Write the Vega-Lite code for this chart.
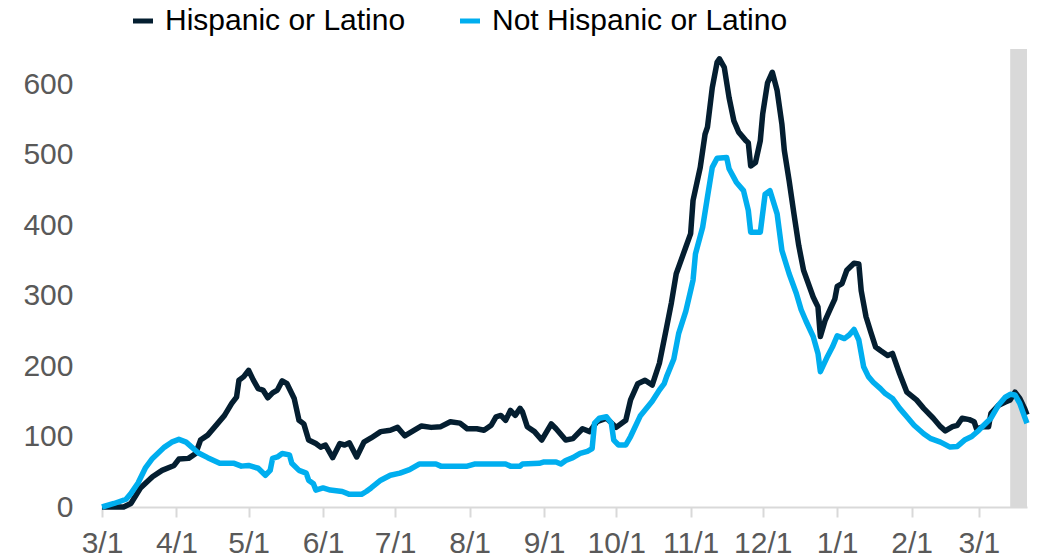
{
  "$schema": "https://vega.github.io/schema/vega-lite/v6.json",
  "width": 925,
  "height": 458,
  "autosize": {"type": "none"},
  "padding": {"left": 102, "top": 49, "right": 11, "bottom": 53},
  "background": "white",
  "config": {"view": {"stroke": null}, "font": "Liberation Sans"},
  "datasets": {
    "hisp": [
      {"d":"2020-03-01","v":0},{"d":"2020-03-10","v":0},{"d":"2020-03-13","v":5},{"d":"2020-03-17","v":27},
      {"d":"2020-03-22","v":43},{"d":"2020-03-26","v":52},{"d":"2020-03-31","v":59},{"d":"2020-04-02","v":68},
      {"d":"2020-04-06","v":69},{"d":"2020-04-09","v":76},{"d":"2020-04-11","v":95},{"d":"2020-04-14","v":102},
      {"d":"2020-04-18","v":118},{"d":"2020-04-21","v":130},{"d":"2020-04-24","v":147},{"d":"2020-04-26","v":156},
      {"d":"2020-04-27","v":180},{"d":"2020-04-29","v":185},{"d":"2020-05-01","v":194},{"d":"2020-05-03","v":180},
      {"d":"2020-05-05","v":168},{"d":"2020-05-07","v":166},{"d":"2020-05-09","v":155},{"d":"2020-05-11","v":162},
      {"d":"2020-05-13","v":166},{"d":"2020-05-15","v":179},{"d":"2020-05-17","v":175},{"d":"2020-05-20","v":154},
      {"d":"2020-05-22","v":123},{"d":"2020-05-24","v":118},{"d":"2020-05-26","v":95},{"d":"2020-05-29","v":90},
      {"d":"2020-05-31","v":85},{"d":"2020-06-02","v":88},{"d":"2020-06-05","v":70},{"d":"2020-06-08","v":90},
      {"d":"2020-06-10","v":88},{"d":"2020-06-12","v":91},{"d":"2020-06-15","v":71},{"d":"2020-06-18","v":92},
      {"d":"2020-06-21","v":98},{"d":"2020-06-25","v":107},{"d":"2020-06-29","v":109},{"d":"2020-07-02","v":113},
      {"d":"2020-07-05","v":101},{"d":"2020-07-09","v":109},{"d":"2020-07-12","v":115},{"d":"2020-07-16","v":113},
      {"d":"2020-07-20","v":114},{"d":"2020-07-24","v":121},{"d":"2020-07-28","v":119},{"d":"2020-07-31","v":111},
      {"d":"2020-08-04","v":111},{"d":"2020-08-07","v":109},{"d":"2020-08-10","v":116},{"d":"2020-08-12","v":128},
      {"d":"2020-08-14","v":130},{"d":"2020-08-16","v":123},{"d":"2020-08-18","v":137},{"d":"2020-08-20","v":130},
      {"d":"2020-08-22","v":140},{"d":"2020-08-23","v":135},{"d":"2020-08-25","v":114},{"d":"2020-08-28","v":107},
      {"d":"2020-08-31","v":95},{"d":"2020-09-04","v":118},{"d":"2020-09-06","v":111},{"d":"2020-09-10","v":95},
      {"d":"2020-09-13","v":97},{"d":"2020-09-17","v":111},{"d":"2020-09-20","v":107},{"d":"2020-09-23","v":121},
      {"d":"2020-09-27","v":126},{"d":"2020-10-01","v":113},{"d":"2020-10-05","v":123},{"d":"2020-10-07","v":152},
      {"d":"2020-10-10","v":175},{"d":"2020-10-13","v":180},{"d":"2020-10-16","v":173},{"d":"2020-10-19","v":204},
      {"d":"2020-10-22","v":255},{"d":"2020-10-24","v":290},{"d":"2020-10-26","v":331},{"d":"2020-10-30","v":369},
      {"d":"2020-11-01","v":388},{"d":"2020-11-02","v":435},{"d":"2020-11-05","v":482},{"d":"2020-11-07","v":529},
      {"d":"2020-11-08","v":539},{"d":"2020-11-10","v":595},{"d":"2020-11-12","v":631},{"d":"2020-11-13","v":636},
      {"d":"2020-11-15","v":624},{"d":"2020-11-17","v":581},{"d":"2020-11-19","v":548},{"d":"2020-11-21","v":532},
      {"d":"2020-11-24","v":520},{"d":"2020-11-25","v":517},{"d":"2020-11-26","v":484},{"d":"2020-11-28","v":489},
      {"d":"2020-11-30","v":520},{"d":"2020-12-01","v":558},{"d":"2020-12-03","v":602},{"d":"2020-12-05","v":617},
      {"d":"2020-12-07","v":591},{"d":"2020-12-09","v":543},{"d":"2020-12-10","v":506},{"d":"2020-12-12","v":463},
      {"d":"2020-12-14","v":416},{"d":"2020-12-16","v":371},{"d":"2020-12-18","v":336},{"d":"2020-12-22","v":298},
      {"d":"2020-12-23","v":291},{"d":"2020-12-24","v":284},{"d":"2020-12-25","v":242},{"d":"2020-12-27","v":265},
      {"d":"2020-12-29","v":280},{"d":"2020-12-31","v":295},{"d":"2021-01-01","v":313},{"d":"2021-01-03","v":317},
      {"d":"2021-01-05","v":336},{"d":"2021-01-08","v":346},{"d":"2021-01-10","v":345},{"d":"2021-01-11","v":307},
      {"d":"2021-01-13","v":270},{"d":"2021-01-15","v":248},{"d":"2021-01-17","v":227},{"d":"2021-01-19","v":222},
      {"d":"2021-01-22","v":215},{"d":"2021-01-24","v":218},{"d":"2021-01-27","v":189},{"d":"2021-01-30","v":163},
      {"d":"2021-02-03","v":152},{"d":"2021-02-06","v":140},{"d":"2021-02-10","v":126},{"d":"2021-02-13","v":114},
      {"d":"2021-02-15","v":108},{"d":"2021-02-18","v":114},{"d":"2021-02-20","v":116},{"d":"2021-02-22","v":126},
      {"d":"2021-02-25","v":124},{"d":"2021-02-27","v":121},{"d":"2021-02-28","v":111},{"d":"2021-03-03","v":114},
      {"d":"2021-03-05","v":114},{"d":"2021-03-06","v":133},{"d":"2021-03-09","v":144},{"d":"2021-03-12","v":149},
      {"d":"2021-03-14","v":152},{"d":"2021-03-16","v":163},{"d":"2021-03-18","v":154},{"d":"2021-03-20","v":140},
      {"d":"2021-03-21","v":131}
    ],
    "non": [
      {"d":"2020-03-01","v":0},{"d":"2020-03-06","v":5},{"d":"2020-03-11","v":11},{"d":"2020-03-13","v":19},
      {"d":"2020-03-16","v":34},{"d":"2020-03-19","v":55},{"d":"2020-03-22","v":69},{"d":"2020-03-27","v":85},
      {"d":"2020-03-30","v":92},{"d":"2020-04-02","v":96},{"d":"2020-04-05","v":92},{"d":"2020-04-07","v":86},
      {"d":"2020-04-10","v":77},{"d":"2020-04-14","v":70},{"d":"2020-04-19","v":62},{"d":"2020-04-25","v":62},
      {"d":"2020-04-28","v":58},{"d":"2020-05-01","v":59},{"d":"2020-05-05","v":55},{"d":"2020-05-08","v":45},
      {"d":"2020-05-10","v":52},{"d":"2020-05-11","v":69},{"d":"2020-05-13","v":71},{"d":"2020-05-15","v":76},
      {"d":"2020-05-18","v":74},{"d":"2020-05-19","v":62},{"d":"2020-05-22","v":52},{"d":"2020-05-25","v":48},
      {"d":"2020-05-26","v":38},{"d":"2020-05-28","v":33},{"d":"2020-05-29","v":24},{"d":"2020-06-01","v":27},
      {"d":"2020-06-04","v":24},{"d":"2020-06-09","v":22},{"d":"2020-06-12","v":18},{"d":"2020-06-17","v":18},
      {"d":"2020-06-19","v":22},{"d":"2020-06-21","v":27},{"d":"2020-06-25","v":38},{"d":"2020-06-29","v":45},
      {"d":"2020-07-03","v":48},{"d":"2020-07-07","v":53},{"d":"2020-07-11","v":61},{"d":"2020-07-18","v":61},
      {"d":"2020-07-20","v":58},{"d":"2020-07-31","v":58},{"d":"2020-08-03","v":61},{"d":"2020-08-16","v":61},
      {"d":"2020-08-18","v":58},{"d":"2020-08-22","v":58},{"d":"2020-08-23","v":61},{"d":"2020-08-30","v":62},
      {"d":"2020-09-01","v":64},{"d":"2020-09-06","v":64},{"d":"2020-09-08","v":61},{"d":"2020-09-10","v":66},
      {"d":"2020-09-13","v":70},{"d":"2020-09-16","v":76},{"d":"2020-09-19","v":79},{"d":"2020-09-21","v":83},
      {"d":"2020-09-22","v":119},{"d":"2020-09-24","v":126},{"d":"2020-09-27","v":128},{"d":"2020-09-29","v":119},
      {"d":"2020-09-30","v":95},{"d":"2020-10-02","v":88},{"d":"2020-10-05","v":88},{"d":"2020-10-07","v":100},
      {"d":"2020-10-11","v":129},{"d":"2020-10-16","v":150},{"d":"2020-10-19","v":166},{"d":"2020-10-21","v":175},
      {"d":"2020-10-22","v":185},{"d":"2020-10-25","v":210},{"d":"2020-10-27","v":246},{"d":"2020-10-30","v":278},
      {"d":"2020-11-01","v":307},{"d":"2020-11-02","v":322},{"d":"2020-11-03","v":359},{"d":"2020-11-06","v":397},
      {"d":"2020-11-08","v":440},{"d":"2020-11-10","v":482},{"d":"2020-11-12","v":495},{"d":"2020-11-16","v":496},
      {"d":"2020-11-17","v":480},{"d":"2020-11-20","v":461},{"d":"2020-11-23","v":449},{"d":"2020-11-25","v":421},
      {"d":"2020-11-26","v":390},{"d":"2020-11-30","v":390},{"d":"2020-12-02","v":444},{"d":"2020-12-04","v":449},
      {"d":"2020-12-07","v":416},{"d":"2020-12-09","v":364},{"d":"2020-12-12","v":331},{"d":"2020-12-15","v":303},
      {"d":"2020-12-17","v":280},{"d":"2020-12-19","v":264},{"d":"2020-12-22","v":242},{"d":"2020-12-24","v":218},
      {"d":"2020-12-25","v":192},{"d":"2020-12-28","v":214},{"d":"2020-12-30","v":227},{"d":"2021-01-01","v":243},
      {"d":"2021-01-04","v":239},{"d":"2021-01-06","v":244},{"d":"2021-01-08","v":252},{"d":"2021-01-10","v":237},
      {"d":"2021-01-12","v":199},{"d":"2021-01-14","v":185},{"d":"2021-01-16","v":177},{"d":"2021-01-19","v":168},
      {"d":"2021-01-21","v":161},{"d":"2021-01-24","v":154},{"d":"2021-01-27","v":140},{"d":"2021-01-30","v":128},
      {"d":"2021-02-02","v":116},{"d":"2021-02-06","v":104},{"d":"2021-02-09","v":97},{"d":"2021-02-13","v":92},
      {"d":"2021-02-17","v":85},{"d":"2021-02-20","v":86},{"d":"2021-02-23","v":95},{"d":"2021-02-26","v":100},
      {"d":"2021-03-01","v":109},{"d":"2021-03-03","v":116},{"d":"2021-03-06","v":126},{"d":"2021-03-09","v":144},
      {"d":"2021-03-12","v":156},{"d":"2021-03-14","v":160},{"d":"2021-03-16","v":159},{"d":"2021-03-18","v":147},
      {"d":"2021-03-20","v":128},{"d":"2021-03-21","v":119}
    ]
  },
  "encoding": {
    "x": {
      "field": "d",
      "type": "temporal",
      "scale": {
        "type": "utc",
        "domain": [
          {"year": 2020, "month": 3, "date": 1, "utc": true},
          {"year": 2021, "month": 3, "date": 21, "utc": true}
        ]
      },
      "axis": {
        "title": null,
        "grid": false,
        "values": [
          {"year": 2020, "month": 3, "date": 1, "utc": true},
          {"year": 2020, "month": 4, "date": 1, "utc": true},
          {"year": 2020, "month": 5, "date": 1, "utc": true},
          {"year": 2020, "month": 6, "date": 1, "utc": true},
          {"year": 2020, "month": 7, "date": 1, "utc": true},
          {"year": 2020, "month": 8, "date": 1, "utc": true},
          {"year": 2020, "month": 9, "date": 1, "utc": true},
          {"year": 2020, "month": 10, "date": 1, "utc": true},
          {"year": 2020, "month": 11, "date": 1, "utc": true},
          {"year": 2020, "month": 12, "date": 1, "utc": true},
          {"year": 2021, "month": 1, "date": 1, "utc": true},
          {"year": 2021, "month": 2, "date": 1, "utc": true},
          {"year": 2021, "month": 3, "date": 1, "utc": true}
        ],
        "labelExpr": "utcFormat(datum.value, '%-m/%-d')",
        "labelFontSize": 30,
        "labelColor": "#595959",
        "labelFlush": false,
        "labelOverlap": false,
        "labelPadding": 11,
        "domainColor": "#d9d9d9",
        "domainWidth": 2,
        "tickColor": "#d9d9d9",
        "tickWidth": 2,
        "tickSize": 10
      }
    }
  },
  "layer": [
    {
      "data": {"values": [{"d": "2021-03-14", "d2": "2021-03-21"}]},
      "mark": {"type": "rect", "color": "#d9d9d9"},
      "encoding": {"x2": {"field": "d2"}}
    },
    {
      "data": {"name": "hisp"},
      "mark": {"type": "line", "strokeWidth": 5.5, "strokeJoin": "round"},
      "encoding": {
        "y": {
          "field": "v",
          "type": "quantitative",
          "scale": {"domain": [0, 650], "nice": false},
          "axis": {
            "title": null,
            "grid": false,
            "domain": false,
            "ticks": false,
            "tickSize": 0,
            "values": [0, 100, 200, 300, 400, 500, 600],
            "labelPadding": 29,
            "labelFontSize": 30,
            "labelColor": "#595959"
          }
        },
        "color": {
          "datum": "Hispanic or Latino",
          "type": "nominal",
          "scale": {
            "domain": ["Hispanic or Latino", "Not Hispanic or Latino"],
            "range": ["#041e30", "#00aeef"]
          },
          "legend": {
            "orient": "none",
            "legendX": 26,
            "legendY": -43,
            "direction": "horizontal",
            "title": null,
            "symbolType": "stroke",
            "symbolStrokeWidth": 5,
            "symbolSize": 400,
            "labelFontSize": 30,
            "labelColor": "#000000",
            "labelLimit": 500,
            "labelOffset": 7,
            "columnPadding": 44,
            "padding": 0
          }
        }
      }
    },
    {
      "data": {"name": "non"},
      "mark": {"type": "line", "strokeWidth": 5.5, "strokeJoin": "round"},
      "encoding": {
        "y": {"field": "v", "type": "quantitative"},
        "color": {"datum": "Not Hispanic or Latino", "type": "nominal"}
      }
    }
  ]
}
